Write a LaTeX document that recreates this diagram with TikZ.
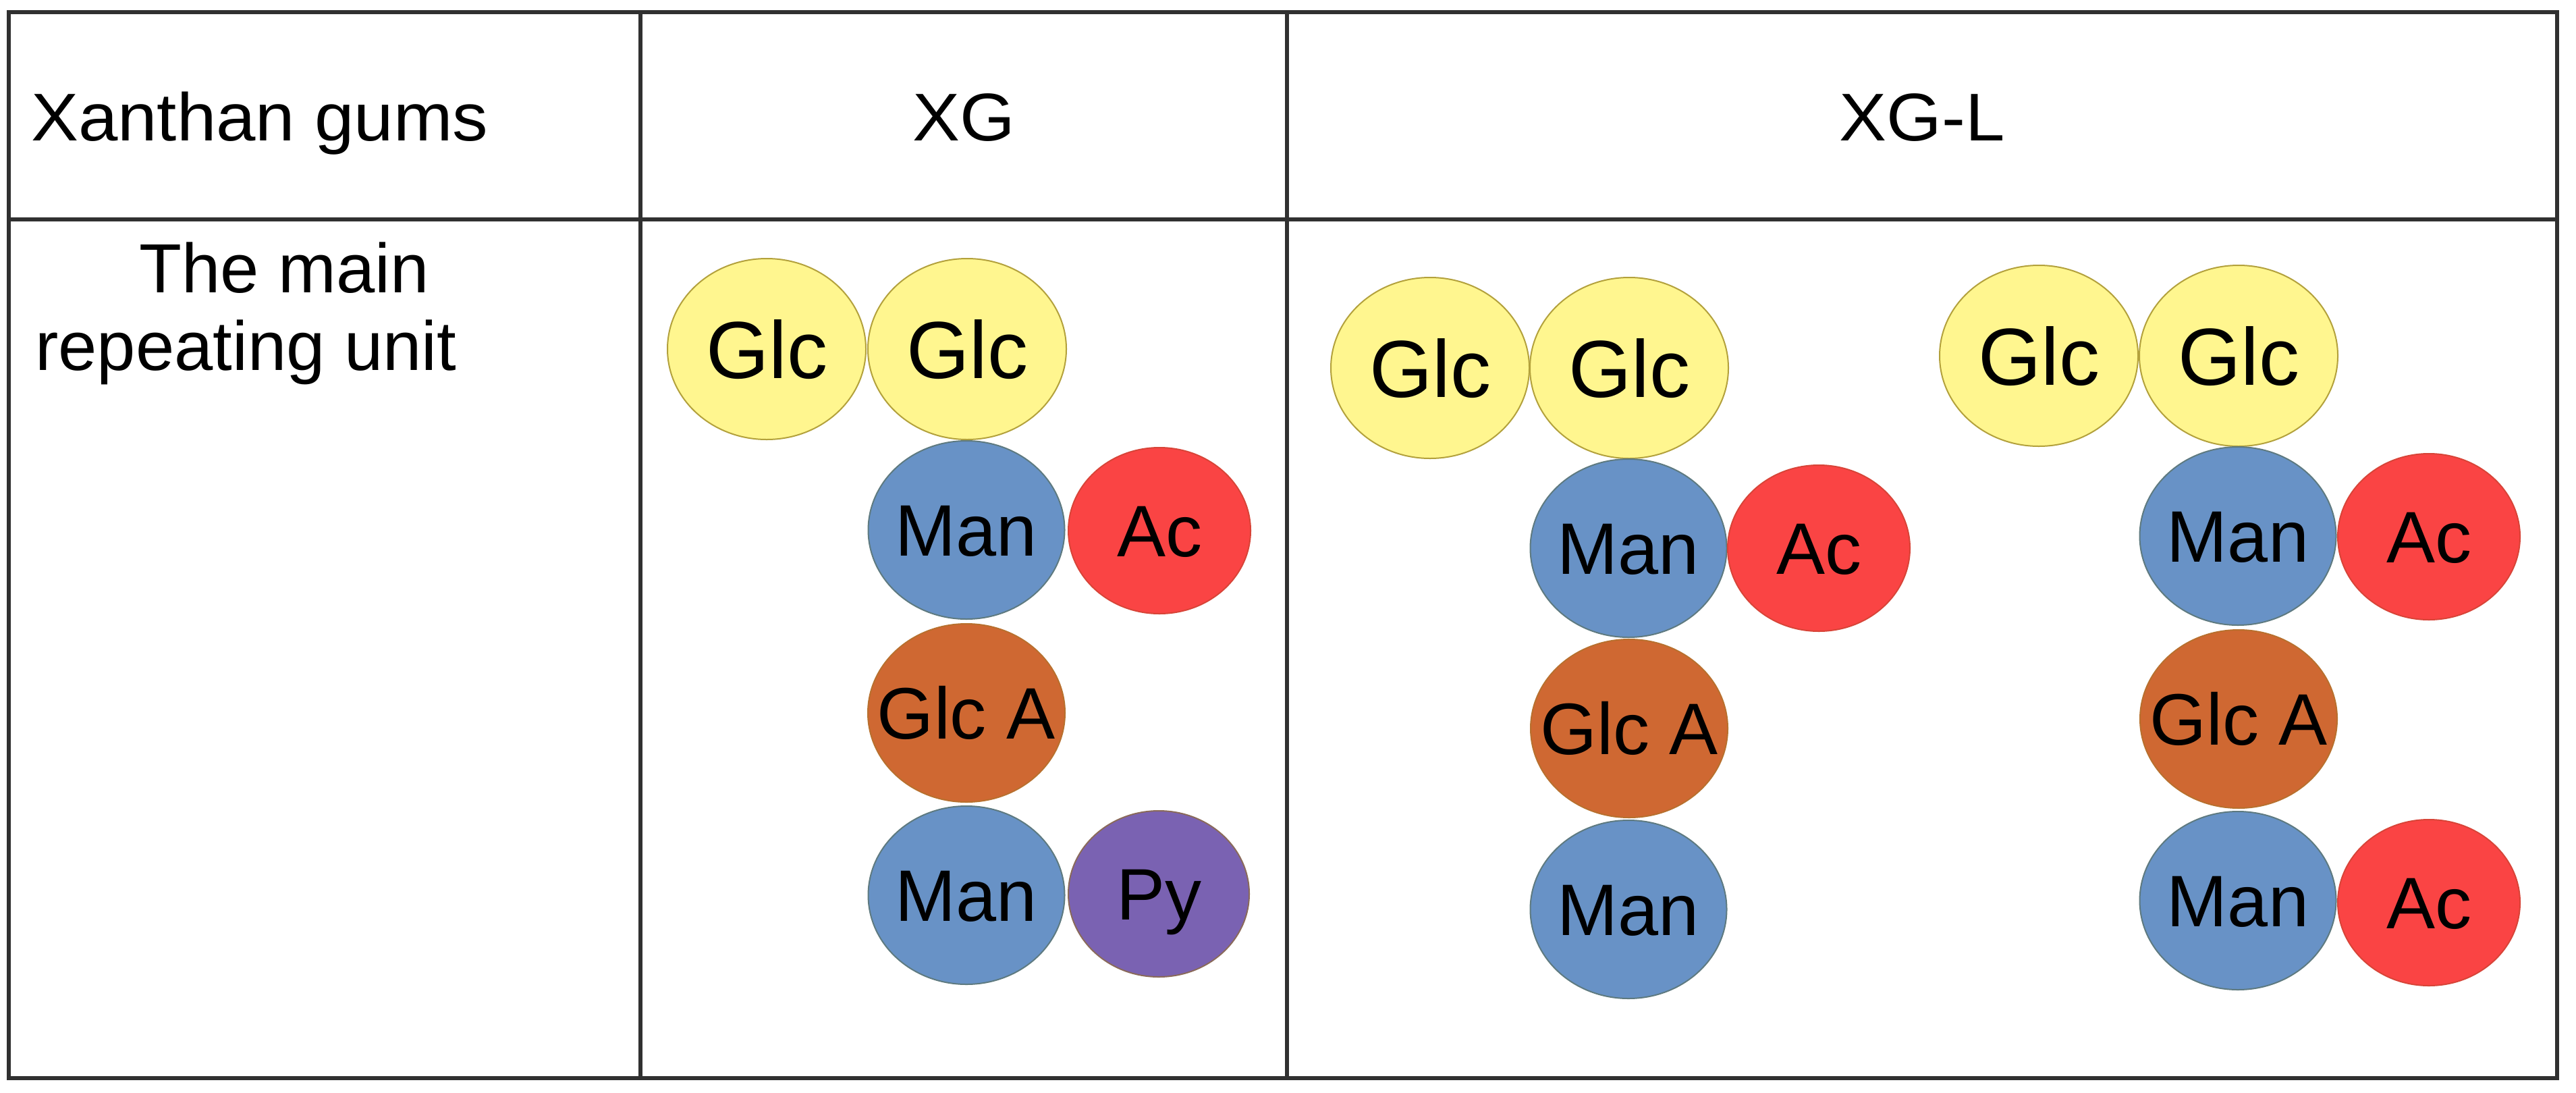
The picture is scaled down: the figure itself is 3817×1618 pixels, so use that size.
\documentclass[tikz,border=0pt]{standalone}
\usepackage{fontspec}
\setmainfont{Liberation Sans}
\usetikzlibrary{shapes.geometric}
\definecolor{glcfill}{HTML}{FFF68F}
\definecolor{glcline}{HTML}{B3A13C}
\definecolor{manfill}{HTML}{6892C6}
\definecolor{manline}{HTML}{5E7A80}
\definecolor{acfill}{HTML}{FA4444}
\definecolor{acline}{HTML}{D84438}
\definecolor{gafill}{HTML}{CF6832}
\definecolor{galine}{HTML}{B8702E}
\definecolor{pyfill}{HTML}{7A62B2}
\definecolor{pyline}{HTML}{8A6A5A}
\definecolor{rulecol}{HTML}{303030}
\newcommand{\hstretch}[1]{\scalebox{1.05}[1]{#1}}
\tikzset{
  sugar/.style={ellipse, inner xsep=-80pt, inner ysep=0pt, text height=77pt, text depth=0pt,
    line width=2pt, font=\fontsize{108}{120}\selectfont},
  glc/.style={sugar, fill=glcfill, draw=glcline, minimum width=294pt, minimum height=268pt,
    font=\fontsize{120}{130}\selectfont, text height=86pt},
  man/.style={sugar, fill=manfill, draw=manline, minimum width=291pt, minimum height=264pt},
  ac/.style={sugar, fill=acfill, draw=acline, minimum width=270pt, minimum height=246pt},
  glca/.style={sugar, fill=gafill, draw=galine, minimum width=292pt, minimum height=264pt},
  py/.style={sugar, fill=pyfill, draw=pyline, minimum width=268pt, minimum height=246pt},
  head/.style={inner sep=0pt, anchor=base, font=\fontsize{100}{115}\selectfont},
  rowlab/.style={inner sep=0pt, anchor=base west, font=\fontsize{103}{115}\selectfont},
  rule/.style={draw=rulecol, line width=5.5pt}
}
\begin{document}
\begin{tikzpicture}[x=1pt,y=-1pt]
\useasboundingbox[fill=white] (0,0) rectangle (3817,1618);
% table grid
\draw[rule] (13,18) rectangle (3789,1597);
\draw[rule] (13,325) -- (3789,325);
\draw[rule] (949,18) -- (949,1597);
\draw[rule] (1907,18) -- (1907,1597);
% headers
\node[head, anchor=base west] (hxan) at (46,208) {\hstretch{Xanthan gums}};
\node[head] (hxg) at (1428,208) {\hstretch{XG}};
\node[head] (hxgl) at (2848,208) {\hstretch{XG-L}};
\node[rowlab] (r1) at (206,433) {The main};
\node[rowlab] (r2) at (52,548) {repeating unit};
% XG
\node[glc] (g1) at (1136,517) {Glc};
\node[glc] (g2) at (1433,517) {Glc};
\node[man] (g3) at (1432,785) {Man};
\node[ac] (g4) at (1718,786) {Ac};
\node[glca] (g5) at (1432,1056) {Glc A};
\node[man] (g6) at (1432,1326) {Man};
\node[py] (g7) at (1717,1324) {Py};
% XG-L left
\node[glc] (a1) at (2119,545) {Glc};
\node[glc] (a2) at (2414,545) {Glc};
\node[man] (a3) at (2413,812) {Man};
\node[ac] (a4) at (2695,812) {Ac};
\node[glca] (a5) at (2414,1079) {Glc A};
\node[man] (a6) at (2413,1347) {Man};
% XG-L right
\node[glc] (b1) at (3021,527) {Glc};
\node[glc] (b2) at (3317,527) {Glc};
\node[man] (b3) at (3316,794) {Man};
\node[ac] (b4) at (3599,795) {Ac};
\node[glca] (b5) at (3317,1065) {Glc A};
\node[man] (b6) at (3316,1334) {Man};
\node[ac] (b7) at (3599,1337) {Ac};
\end{tikzpicture}
\end{document}
